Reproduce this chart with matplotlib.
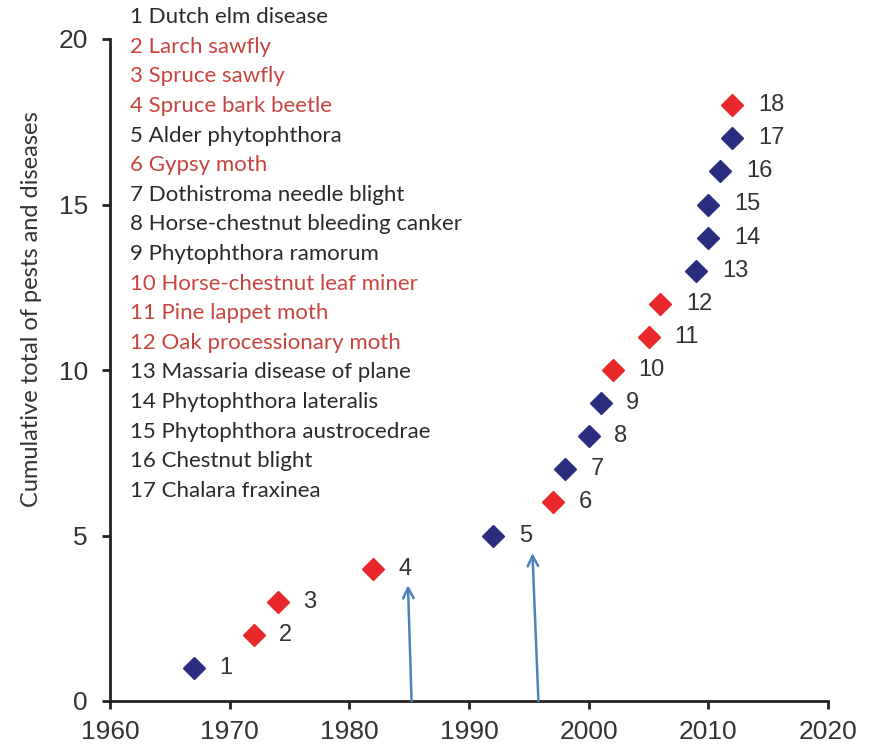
import matplotlib
matplotlib.use("Agg")
import matplotlib.pyplot as plt

# ---- data ----
years = [1967, 1972, 1974, 1982, 1992, 1997, 1998, 2000, 2001, 2002,
         2005, 2006, 2009, 2010, 2010, 2011, 2012, 2012]
totals = list(range(1, 19))
kinds = ["disease", "pest", "pest", "pest", "disease", "pest", "disease",
         "disease", "disease", "pest", "pest", "pest", "disease", "disease",
         "disease", "disease", "disease", "pest"]
names = ["Dutch elm disease", "Larch sawfly", "Spruce sawfly", "Spruce bark beetle",
         "Alder phytophthora", "Gypsy moth", "Dothistroma needle blight",
         "Horse-chestnut bleeding canker", "Phytophthora ramorum",
         "Horse-chestnut leaf miner", "Pine lappet moth", "Oak processionary moth",
         "Massaria disease of plane", "Phytophthora lateralis",
         "Phytophthora austrocedrae", "Chestnut blight", "Chalara fraxinea"]
arrow_years = [(1985.2, 1984.9), (1995.8, 1995.3)]
arrow_tops = [3.5, 4.47]
x_ticks = [1960, 1970, 1980, 1990, 2000, 2010, 2020]
y_ticks = [0, 5, 10, 15, 20]

marker_col = {"pest": "#e8282b", "disease": "#2b2d7e"}
text_col = {"pest": "#c8443f", "disease": "#2a2a2a"}

fig = plt.figure(figsize=(8.7, 7.5), dpi=100)
ax = fig.add_axes([110/870, 1-701/750, (828-110)/870, (701-39)/750])

for x, y, k in zip(years, totals, kinds):
    ax.plot(x, y, marker="D", ms=11, color=marker_col[k], mec=marker_col[k], ls="none",
            clip_on=False, zorder=3)
    ax.annotate(str(y), (x, y), xytext=(18.5, 0), textcoords="offset points",
                va="center", ha="left", fontsize=17, color="#333333",
                family="Liberation Sans")

for (x0, x1), top in zip(arrow_years, arrow_tops):
    ax.annotate("", xy=(x1, top), xytext=(x0, 0),
                arrowprops=dict(arrowstyle="->,head_length=0.75,head_width=0.38",
                                color="#4f81bd", lw=1.8, shrinkA=0, shrinkB=0),
                annotation_clip=False)

ax.set_xlim(1960, 2020)
ax.set_ylim(0, 20)
ax.set_xticks(x_ticks)
ax.set_yticks(y_ticks)
for lab in ax.get_xticklabels() + ax.get_yticklabels():
    lab.set_family("Liberation Sans")
    lab.set_fontsize(19)
    lab.set_color("#333333")
ax.tick_params(axis="both", direction="out", length=6, width=2, color="#222222")
ax.tick_params(axis="x", pad=8)
ax.tick_params(axis="y", pad=10)
for s in ["top", "right"]:
    ax.spines[s].set_visible(False)
for s in ["left", "bottom"]:
    ax.spines[s].set_linewidth(2)
    ax.spines[s].set_color("#222222")

# legend list
y0 = 20.66
dy = 29.6 / 33.1
for i, nm in enumerate(names):
    ax.text(1961.7, y0 - i * dy, f"{i+1} {nm}", ha="left", va="center",
            fontsize=16, family="Lato", color=text_col[kinds[i]], clip_on=False)

fig.text(32/870, 1-309/750, "Cumulative total of pests and diseases", rotation=90,
         ha="center", va="center", fontsize=17, family="Lato", color="#333333")

fig.savefig("out.png", dpi=100, facecolor="white")
